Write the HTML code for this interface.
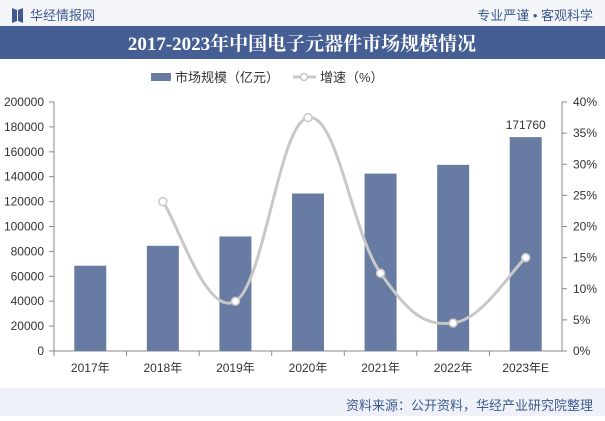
<!DOCTYPE html>
<html><head><meta charset="utf-8"><style>
body{margin:0;width:605px;height:416px;overflow:hidden;background:#fff;font-family:"Liberation Sans","Noto Sans CJK SC",sans-serif;}
</style></head><body>
<svg width="605" height="416" xmlns="http://www.w3.org/2000/svg">
<rect x="0" y="0" width="605" height="26" fill="#f3f5f9"/>
<path d="M12 8 L17 10 L17 21 L12 23 Z M18 10 L23 8 L23 23 L18 21 Z" fill="#3e5a8e"/>
<text x="30" y="20" font-size="13" fill="#3e5a8e">华经情报网</text>
<text x="593" y="20" font-size="13" fill="#3e5a8e" text-anchor="end">专业严谨 • 客观科学</text>
<rect x="0" y="26" width="605" height="33" fill="#455e94"/>
<text x="302" y="50" font-size="19" font-weight="bold" fill="#fff" text-anchor="middle" font-family="'Liberation Serif','Noto Serif CJK SC',serif">2017-2023年中国电子元器件市场规模情况</text>
<rect x="151" y="73" width="20" height="8" fill="#687ba3"/>
<text x="175" y="82" font-size="13" fill="#333">市场规模（亿元）</text>
<line x1="293" y1="77" x2="316" y2="77" stroke="#c8c8c8" stroke-width="3"/>
<circle cx="304" cy="77" r="3.5" fill="#fff" stroke="#c8c8c8" stroke-width="1.5"/>
<text x="320" y="82" font-size="13" fill="#333">增速（%）</text>
<rect x="0" y="388" width="605" height="28" fill="#eef1f7"/>
<text x="593" y="410" font-size="13" fill="#3e5a8e" text-anchor="end">资料来源：公开资料，华经产业研究院整理</text>
<g id="plot"></g>
</svg>
<script>
const categories=["2017年","2018年","2019年","2020年","2021年","2022年","2023年E"];
const marketSize=[68500,84500,92000,126500,142500,149500,171760];
const growth=[null,24.0,8.0,37.5,12.5,4.5,15.0];
const leftTicks=[0,20000,40000,60000,80000,100000,120000,140000,160000,180000,200000];
const rightTicks=[0,5,10,15,20,25,30,35,40];
const NS="http://www.w3.org/2000/svg";
const g=document.getElementById('plot');
const X0=54,X1=562,Y0=351,Y1=102;
const band=(X1-X0)/categories.length;
const xc=i=>X0+band*(i+0.5);
const yL=v=>Y0-(v/200000)*(Y0-Y1);
const yR=v=>Y0-(v/40)*(Y0-Y1);
function el(t,a,p){const e=document.createElementNS(NS,t);for(const k in a)e.setAttribute(k,a[k]);(p||g).appendChild(e);return e;}
leftTicks.forEach(v=>{const t=el('text',{x:44,y:yL(v)+4,'font-size':12,fill:'#333','text-anchor':'end'});t.textContent=v;


el('line',{x1:49,x2:54,y1:yL(v),y2:yL(v),stroke:'#888'});});
rightTicks.forEach(v=>{const t=el('text',{x:573,y:yR(v)+4,'font-size':12,fill:'#333'});t.textContent=v+'%';


el('line',{x1:562,x2:567,y1:yR(v),y2:yR(v),stroke:'#888'});});
el('line',{x1:54,x2:54,y1:Y1,y2:Y0,stroke:'#888'});
el('line',{x1:562,x2:562,y1:Y1,y2:Y0,stroke:'#888'});
el('line',{x1:54,x2:562,y1:Y0,y2:Y0,stroke:'#888'});
categories.forEach((c,i)=>{
el('line',{x1:X0+band*i,x2:X0+band*i,y1:Y0,y2:Y0+5,stroke:'#888'});
const b=el('rect',{x:xc(i)-16,y:yL(marketSize[i]),width:32,height:Y0-yL(marketSize[i]),fill:'#687ba3'});


const t=el('text',{x:xc(i),y:372,'font-size':12,fill:'#333','text-anchor':'middle'});t.textContent=c;


});
const last=marketSize.length-1;
const lbl=el('text',{x:xc(last),y:yL(marketSize[last])-8,'font-size':12,fill:'#333','text-anchor':'middle'});lbl.textContent=marketSize[last];


const pts=[];growth.forEach((v,i)=>{if(v!==null)pts.push([xc(i),yR(v)]);});
let d='M'+pts[0][0]+','+pts[0][1];
for(let i=0;i<pts.length-1;i++){const p0=pts[i-1]||pts[i],p1=pts[i],p2=pts[i+1],p3=pts[i+2]||p2;
const k=0.2;d+=` C${p1[0]+(p2[0]-p0[0])*k},${p1[1]+(p2[1]-p0[1])*k} ${p2[0]-(p3[0]-p1[0])*k},${p2[1]-(p3[1]-p1[1])*k} ${p2[0]},${p2[1]}`;}
const line=el('path',{d:d,fill:'none',stroke:'#c8c8c8','stroke-width':3});


pts.forEach(p=>{const c=el('circle',{cx:p[0],cy:p[1],r:4,fill:'#fff',stroke:'#c8c8c8','stroke-width':1.5});

});
</script>
</body></html>
